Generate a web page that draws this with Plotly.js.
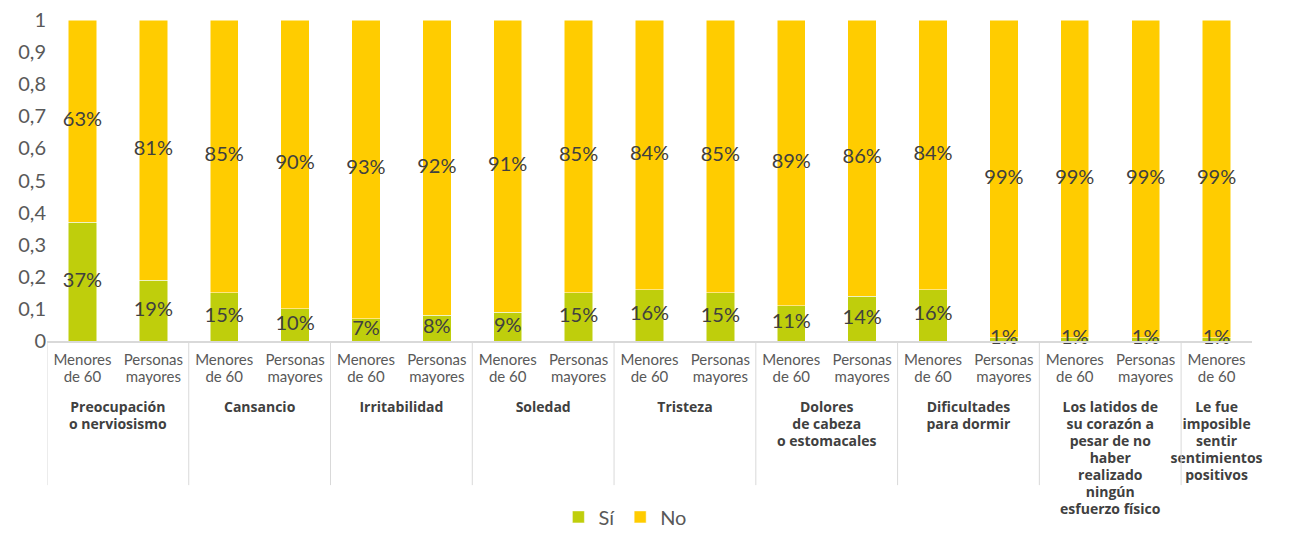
<!DOCTYPE html>
<html>
<head>
<meta charset="utf-8">
<script src="https://cdn.plot.ly/plotly-3.0.1.min.js"></script>
<style>html,body{margin:0;padding:0;background:#fff;}#chart{width:1293px;height:536px;}</style>
</head>
<body>
<div id="chart"></div>
<script>
var groups = [
  "Preocupación<br>o nerviosismo", "Preocupación<br>o nerviosismo",
  "Cansancio", "Cansancio",
  "Irritabilidad", "Irritabilidad",
  "Soledad", "Soledad",
  "Tristeza", "Tristeza",
  "Dolores<br>de cabeza<br>o estomacales", "Dolores<br>de cabeza<br>o estomacales",
  "Dificultades<br>para dormir", "Dificultades<br>para dormir",
  "Los latidos de<br>su corazón a<br>pesar de no<br>haber<br>realizado<br>ningún<br>esfuerzo físico", "Los latidos de<br>su corazón a<br>pesar de no<br>haber<br>realizado<br>ningún<br>esfuerzo físico",
  "Le fue<br>imposible<br>sentir<br>sentimientos<br>positivos"
];
var subgroups = [
  "Menores<br>de 60", "Personas<br>mayores",
  "Menores<br>de 60", "Personas<br>mayores",
  "Menores<br>de 60", "Personas<br>mayores",
  "Menores<br>de 60", "Personas<br>mayores",
  "Menores<br>de 60", "Personas<br>mayores",
  "Menores<br>de 60", "Personas<br>mayores",
  "Menores<br>de 60", "Personas<br>mayores",
  "Menores<br>de 60", "Personas<br>mayores",
  "Menores<br>de 60"
];
var si = [0.37, 0.19, 0.15, 0.10, 0.07, 0.08, 0.09, 0.15, 0.16, 0.15, 0.11, 0.14, 0.16, 0.01, 0.01, 0.01, 0.01];
var no = [0.63, 0.81, 0.85, 0.90, 0.93, 0.92, 0.91, 0.85, 0.84, 0.85, 0.89, 0.86, 0.84, 0.99, 0.99, 0.99, 0.99];

var FONT = "Lato, 'Open Sans', sans-serif";

var groupLabels = groups.map(function(g){
  return '<span style="font-size:6px"> </span><br><b><span style="font-size:14px;font-family:' + "Open Sans" + ';fill:#404040">' + g + '</span></b>';
});
var subLabels = subgroups.map(function(s){
  return '<span style="font-size:15px">' + s + '</span>';
});
var xcat = [groupLabels, subLabels];

function pct(v){ return Math.round(v * 100) + '%'; }

var traceSi = {
  type: 'bar', name: 'Sí', x: xcat, y: si,
  marker: {color: '#BFCE0C', line: {color: '#ffffff', width: 0.5}},
  hoverinfo: 'skip'
};
var traceNo = {
  type: 'bar', name: 'No', x: xcat, y: no,
  marker: {color: '#FFCC00', line: {color: '#ffffff', width: 0.5}},
  hoverinfo: 'skip'
};
var labelsSi = {
  type: 'scatter', mode: 'text', x: xcat,
  y: si.map(function(v){ return v / 2; }),
  text: si.map(pct), textposition: 'middle center',
  textfont: {family: FONT, size: 20, color: '#404040'},
  showlegend: false, hoverinfo: 'skip', cliponaxis: false
};
var labelsNo = {
  type: 'scatter', mode: 'text', x: xcat,
  y: no.map(function(v, i){ return si[i] + v / 2; }),
  text: no.map(pct), textposition: 'middle center',
  textfont: {family: FONT, size: 20, color: '#404040'},
  showlegend: false, hoverinfo: 'skip', cliponaxis: false
};

// group dividers at group boundaries
var shapes = [];
for (var i = 0; i < groups.length; i++) {
  if (i === 0 || groups[i] !== groups[i - 1]) {
    shapes.push({type: 'line', xref: 'x', yref: 'paper', x0: i - 0.5, x1: i - 0.5, y0: 0, y1: -0.449,
                 line: {color: '#d9d9d9', width: 1}});
  }
}

var layout = {
  width: 1293, height: 536,
  margin: {l: 47, r: 41, t: 20, b: 195, autoexpand: false},
  barmode: 'stack',
  bargap: 0.6,
  separators: ',.',
  paper_bgcolor: '#ffffff',
  plot_bgcolor: '#ffffff',
  font: {family: FONT, color: '#595959'},
  showlegend: true,
  legend: {orientation: 'h', x: 0.48, xanchor: 'center', y: -0.548, yanchor: 'middle',
           font: {size: 20, color: '#595959', family: FONT}, itemwidth: 30, traceorder: 'normal'},
  shapes: shapes,
  xaxis: {
    type: 'multicategory', automargin: false,
    range: [-0.5, si.length - 0.5], autorange: false,
    showline: true, linecolor: '#d9d9d9', linewidth: 2,
    showgrid: false, ticks: '', ticklabelstandoff: 6,
    showdividers: false,
    tickfont: {family: FONT, size: 13, color: '#595959'}
  },
  yaxis: {
    range: [0, 1], dtick: 0.1, tick0: 0, automargin: false,
    showgrid: false, zeroline: false, showline: false,
    ticks: '', ticklen: 0,
    tickfont: {family: FONT, size: 20, color: '#595959'}
  }
};

Plotly.newPlot('chart', [traceSi, traceNo, labelsSi, labelsNo], layout, {displayModeBar: false, staticPlot: true});
</script>
</body>
</html>
